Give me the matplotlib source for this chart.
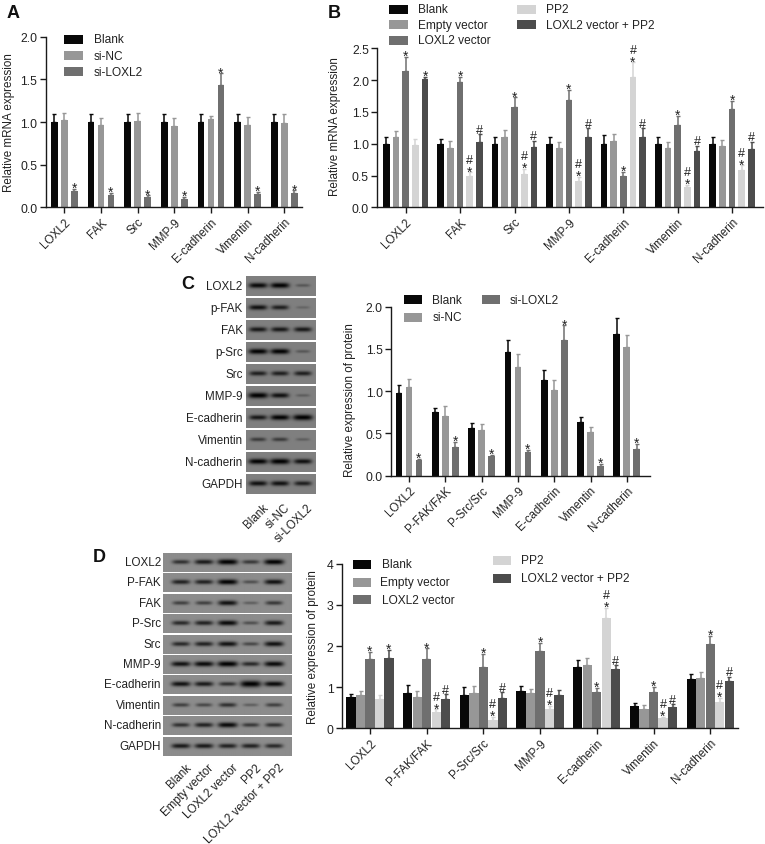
import numpy as np
import matplotlib
matplotlib.use('Agg')
from matplotlib import pyplot as plt
from matplotlib.patches import Rectangle

plt.rcParams['font.family'] = ['Liberation Sans', 'DejaVu Sans']

W, H = 765, 845
FS = 8.4

BLACK, MID, DARK, LIGHT, DEEP = '#080808', '#979797', '#6f6f6f', '#d4d4d4', '#4c4c4c'

# panel A
genes_a = ['LOXL2', 'FAK', 'Src', 'MMP-9', 'E-cadherin', 'Vimentin', 'N-cadherin']
a_names = ['Blank', 'si-NC', 'si-LOXL2']
a_vals = [[1, 1, 1, 1, 1, 1, 1],
          [1.02, .96, 1.01, .95, 1.04, .97, .99],
          [.19, .15, .12, .10, 1.43, .16, .17]]
a_tops = [[1.09, 1.09, 1.09, 1.09, 1.09, 1.09, 1.09],
          [1.10, 1.05, 1.10, 1.05, 1.07, 1.06, 1.09],
          [.22, .17, .14, .12, 1.57, .18, .20]]
a_marks = [['', '', '', '', '', '', ''],
           ['', '', '', '', '', '', ''],
           ['*', '*', '*', '*', '*', '*', '*']]

# panel B
b_names = ['Blank', 'Empty vector', 'LOXL2 vector', 'PP2', 'LOXL2 vector + PP2']
b_vals = [[1, 1, 1, 1, 1, 1, 1],
          [1.10, .94, 1.10, .93, 1.04, .93, .96],
          [2.14, 1.97, 1.57, 1.69, .50, 1.30, 1.54],
          [.98, .50, .53, .42, 2.05, .32, .59],
          [2.01, 1.03, .95, 1.11, 1.10, .88, .91]]
b_tops = [[1.11, 1.07, 1.11, 1.11, 1.14, 1.11, 1.11],
          [1.20, 1.04, 1.22, 1.03, 1.16, 1.03, 1.06],
          [2.36, 2.05, 1.73, 1.85, .56, 1.44, 1.67],
          [1.07, .55, .60, .48, 2.28, .35, .66],
          [2.05, 1.15, 1.05, 1.24, 1.24, .97, 1.03]]
b_marks = [['', '', '', '', '', '', ''],
           ['', '', '', '', '', '', ''],
           ['*', '*', '*', '*', '*', '*', '*'],
           ['', '*#', '*#', '*#', '*#', '*#', '*#'],
           ['*', '#', '#', '#', '#', '#', '#']]

# panel C
proteins = ['LOXL2', 'P-FAK/FAK', 'P-Src/Src', 'MMP-9', 'E-cadherin', 'Vimentin', 'N-cadherin']
c_vals = [[.98, .75, .56, 1.46, 1.13, .63, 1.68],
          [1.05, .71, .54, 1.29, 1.01, .52, 1.52],
          [.18, .34, .23, .28, 1.61, .12, .32]]
c_tops = [[1.07, .80, .62, 1.61, 1.25, .69, 1.87],
          [1.14, .82, .61, 1.44, 1.13, .58, 1.67],
          [.20, .40, .25, .31, 1.78, .14, .38]]
c_marks = a_marks

# panel D
d_vals = [[.75, .86, .82, .91, 1.49, .54, 1.19],
          [.80, .76, .85, .86, 1.53, .48, 1.22],
          [1.68, 1.69, 1.50, 1.87, .88, .88, 2.04],
          [.71, .40, .20, .48, 2.68, .24, .65],
          [1.72, .72, .74, .82, 1.43, .51, 1.14]]
d_tops = [[.84, 1.06, 1.00, 1.02, 1.66, .62, 1.33],
          [.90, .90, 1.03, .96, 1.72, .56, 1.36],
          [1.85, 1.94, 1.81, 2.07, .99, 1.01, 2.24],
          [.80, .46, .27, .54, 2.92, .28, .74],
          [1.90, .83, .88, .92, 1.53, .59, 1.25]]
d_marks = [['', '', '', '', '', '', ''],
           ['', '', '', '', '', '', ''],
           ['*', '*', '*', '*', '*', '*', '*'],
           ['', '*#', '*#', '*#', '*#', '*#', '*#'],
           ['*', '#', '#', '', '#', '#', '#']]

# western blots, band strength per lane
c_blot_labels = ['LOXL2', 'p-FAK', 'FAK', 'p-Src', 'Src', 'MMP-9', 'E-cadherin', 'Vimentin', 'N-cadherin', 'GAPDH']
c_blot_lanes = ['Blank', 'si-NC', 'si-LOXL2']
c_blot = [[.85, .9, .3], [.8, .7, .2], [.75, .75, .75], [.9, .9, .3], [.7, .7, .7],
          [1, .8, .25], [.75, .9, 1], [.5, .5, .25], [.9, 1, .8], [.8, .8, .7]]
d_blot_labels = ['LOXL2', 'P-FAK', 'FAK', 'P-Src', 'Src', 'MMP-9', 'E-cadherin', 'Vimentin', 'N-cadherin', 'GAPDH']
d_blot_lanes = ['Blank', 'Empty vector', 'LOXL2 vector', 'PP2', 'LOXL2 vector + PP2']
d_blot = [[.6, .75, .95, .55, .9], [.7, .7, .9, .4, .8], [.5, .5, .8, .3, .55], [.65, .7, .85, .4, .75],
          [.65, .7, .8, .45, .8], [.8, .85, .95, .65, .85], [.8, .75, .6, 1.2, .85], [.5, .45, .6, .3, .5],
          [.6, .7, .85, .55, .6], [.75, .75, .7, .7, .65]]


fig = plt.figure(figsize=(W / 100, H / 100), dpi=100)
over = fig.add_axes([0, 0, 1, 1], zorder=5)
over.patch.set_alpha(0)
over.axis('off')


def make_axes(left, right, top, bottom):
    return fig.add_axes([left / W, 1 - bottom / H, (right - left) / W, (bottom - top) / H])


def bars(ax, first, pitch, left, right, step, width, vals, tops, marks, colors, names, ymax, yticks, ylabels):
    n = len(vals)
    x = np.arange(len(names))
    for i in range(n):
        pos = x + (i - (n - 1) / 2) * step / pitch
        v = np.array(vals[i], dtype=float)
        t = np.array(tops[i], dtype=float)
        ax.bar(pos, v, width / pitch, color=colors[i])
        ax.errorbar(pos, v, yerr=[np.zeros(len(v)), t - v], fmt='none', ecolor=colors[i],
                    elinewidth=1.1, capsize=1.3, capthick=1.0)
        for px, top, m in zip(pos, t, marks[i]):
            off = 1.0
            for ch in m:
                if ch == '*':
                    ax.annotate('*', (px, top), xytext=(0, off - 3.2), textcoords='offset points',
                                ha='center', va='baseline', fontsize=10, color='#222222')
                    off += 6
                else:
                    ax.annotate('#', (px, top), xytext=(0, off), textcoords='offset points',
                                ha='center', va='baseline', fontsize=9, color='#222222')
                    off += 8
    ax.set_xlim((left - first) / pitch, (right - first) / pitch)
    ax.set_ylim(0, ymax)
    ax.set_yticks(yticks)
    ax.set_yticklabels(ylabels, fontsize=FS + 0.4)
    ax.set_xticks(x)
    ax.set_xticklabels(names, rotation=45, ha='right', rotation_mode='anchor', fontsize=FS)
    for s in ['top', 'right']:
        ax.spines[s].set_visible(False)
    for s in ['left', 'bottom']:
        ax.spines[s].set_linewidth(1.0)
        ax.spines[s].set_color('#1a1a1a')
    ax.tick_params(length=4, width=1.0, pad=2, color='#1a1a1a', labelcolor='#222222')


def legend(entries, fs=FS + 0.2):
    for x0, x1, y, tx, name, c in entries:
        over.add_patch(Rectangle((x0, y - 4.5), x1 - x0, 9, color=c, lw=0))
        over.text(tx, y, name, va='center', ha='left', fontsize=fs, color='#222222')


def blot(x0, x1, y0, pitch, height, rows, labels, lane_x, bg, lane_names, lab_x, lane_y):
    half = (lane_x[1] - lane_x[0]) / 2
    for r, row in enumerate(rows):
        top = y0 + r * pitch
        xx = np.linspace(x0, x1, int((x1 - x0) * 2))
        yy = np.linspace(top, top + height, int(height * 2))
        gx, gy = np.meshgrid(xx, yy)
        img = np.full(gx.shape, bg)
        for lx, s in zip(lane_x, row):
            wx = half * (.55 + .35 * min(s, 1))
            wy = 1.0 + 1.9 * s
            yc = top + height * .47
            img -= min(s * 1.1, 1) * bg * np.exp(-((gx - lx) / wx) ** 4) * np.exp(-((gy - yc) / wy) ** 2)
        over.imshow(np.clip(img, 0, 1), cmap='gray', vmin=0, vmax=1, extent=(x0, x1, top + height, top),
                    aspect='auto', interpolation='bilinear')
        over.text(lab_x, top + height / 2 - .5, labels[r], ha='right', va='center', fontsize=FS, color='#222222')
    for lx, name in zip(lane_x, lane_names):
        over.text(lx + 4, lane_y, name, rotation=45, ha='right', va='top', rotation_mode='anchor',
                  fontsize=FS, color='#222222')


col3 = [BLACK, MID, DARK]
col5 = [BLACK, MID, DARK, LIGHT, DEEP]

ax_a = make_axes(45.7, 301.7, 37.7, 208.3)
bars(ax_a, 64.3, 36.67, 45.7, 301.7, 10, 6.7, a_vals, a_tops, a_marks, col3, genes_a, 2.0,
     [0, .5, 1, 1.5, 2], ['0.0', '0.5', '1.0', '1.5', '2.0'])
ax_b = make_axes(377.3, 763, 49.3, 208.3)
bars(ax_b, 405.7, 54.4, 377.3, 763, 9.7, 6.7, b_vals, b_tops, b_marks, col5, genes_a, 2.5,
     [0, .5, 1, 1.5, 2, 2.5], ['0.0', '0.5', '1.0', '1.5', '2.0', '2.5'])
ax_c = make_axes(391, 650, 307.7, 476.7)
bars(ax_c, 409, 36.3, 391, 650, 10, 6.7, c_vals, c_tops, c_marks, col3, proteins, 2.0,
     [0, .5, 1, 1.5, 2], ['0.0', '0.5', '1.0', '1.5', '2.0'])
ax_d = make_axes(342, 738.3, 564.7, 729.3)
bars(ax_d, 370, 56.7, 342, 738.3, 9.5, 9.3, d_vals, d_tops, d_marks, col5, proteins, 4,
     [0, 1, 2, 3, 4], ['0', '1', '2', '3', '4'])

legend([(64.3, 83.3, 40.3, 93.7, a_names[0], BLACK), (64.3, 83.3, 56.7, 93.7, a_names[1], MID),
        (64.3, 83.3, 72.7, 93.7, a_names[2], DARK)])
legend([(389, 407.7, 10.3, 418.3, b_names[0], BLACK), (389, 407.7, 25.7, 418.3, b_names[1], MID),
        (389, 407.7, 41, 418.3, b_names[2], DARK), (517, 535.7, 10.3, 545.7, b_names[3], LIGHT),
        (517, 535.7, 25.7, 545.7, b_names[4], DEEP)])
legend([(404, 422.3, 300.7, 432.3, a_names[0], BLACK), (404, 422.3, 318, 432.3, a_names[1], MID),
        (481.7, 500, 300.7, 510, a_names[2], DARK)])
legend([(353.3, 371.3, 565, 381.7, b_names[0], BLACK), (353.3, 371.3, 583, 380.3, b_names[1], MID),
        (353.3, 371.3, 600.7, 381.7, b_names[2], DARK), (492.7, 510.7, 561.3, 521, b_names[3], LIGHT),
        (492.7, 510.7, 579.3, 521, b_names[4], DEEP)])

blot(246, 316, 277.3, 22, 20, c_blot, c_blot_labels, [258, 280, 303], .50, c_blot_lanes, 242.7, 502)
blot(163.3, 291.7, 554, 20.4, 19, d_blot, d_blot_labels, [181, 204, 227.7, 250.7, 274], .55, d_blot_lanes, 161, 762)

over.set_xlim(0, W)
over.set_ylim(H, 0)

for x, y, s in [(9.3, 123, 'Relative mRNA expression'), (335, 127, 'Relative mRNA expression'),
                (350, 400, 'Relative expression of protein'), (312.7, 647, 'Relative expression of protein')]:
    over.text(x, y, s, rotation=90, ha='center', va='center', fontsize=FS, color='#222222')

for x, y, s in [(7, 14, 'A'), (328, 13, 'B'), (181.7, 285, 'C'), (93, 558, 'D')]:
    over.text(x, y, s, ha='left', va='center', fontsize=13, fontweight='bold', color='#111111')

fig.savefig('out.png', dpi=100)
